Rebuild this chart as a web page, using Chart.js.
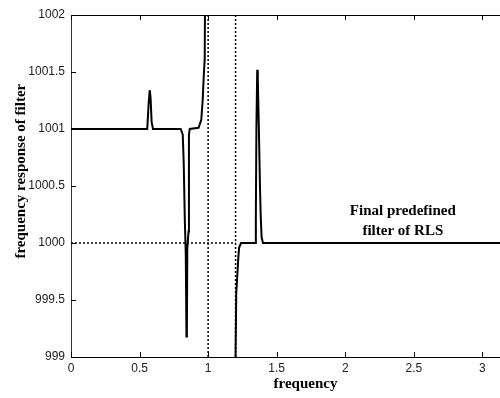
<!DOCTYPE html>
<html>
<head>
<meta charset="utf-8">
<script src="https://cdn.jsdelivr.net/npm/chart.js@4/dist/chart.umd.min.js"></script>
<style>
    html, body { margin: 0; padding: 0; background: #fff; overflow: hidden; }
    #wrap { width: 540px; height: 398px; }
</style>
</head>
<body>
<div id="wrap"><canvas id="myChart" width="540" height="398"></canvas></div>
<script>
    // frequency response
    const freqs = [0, 0.556, 0.566, 0.574, 0.58, 0.588, 0.598, 0.80, 0.815, 0.822, 0.83, 0.837, 0.842, 0.845,
        0.848, 0.857, 0.86, 0.866, 0.93, 0.95, 0.96, 0.969, 0.975, 0.978, 0.99, 1.199, 1.2, 1.205, 1.212,
        1.22, 1.226, 1.24, 1.345, 1.348, 1.352, 1.358, 1.362, 1.37, 1.378, 1.383, 1.39, 1.40, 3.42]
    const response = [1001, 1001, 1001.22, 1001.34, 1001.28, 1001.06, 1001, 1001, 1000.95, 1000.7, 1000.2, 999.9,
        999.18, 999.2, 999.95, 1000.1, 1000.95, 1001, 1001.01, 1001.08, 1001.25, 1001.49, 1001.61, 1002.3, null,
        996, 999.0, 999.56, 999.7, 999.87, 999.96, 1000, 1000, 1000.25, 1001.0, 1001.52, 1001.45, 1001.0,
        1000.5, 1000.25, 1000.05, 1000, 1000]

    // dotted guides
    const guideFreqs = [1.0, 1.2]
    const guideLevel = 1000

    const xTicks = [0, 0.5, 1, 1.5, 2, 2.5, 3]
    const yTicks = [999, 999.5, 1000, 1000.5, 1001, 1001.5, 1002]

    const xMin = 0, xMax = 3.42
    const yMin = 999, yMax = 1002

    const noteLines = ['Final predefined', 'filter of RLS']
    const yTitle = 'frequency response of filter'

    const curve = freqs.map((f, i) => ({x: f, y: response[i]}))

    const dotted = {
        borderColor: '#000',
        borderWidth: 1.5,
        borderDash: [2, 2],
        pointRadius: 0,
        fill: false
    }

    const datasets = [
        Object.assign({data: [{x: xMin, y: guideLevel}, {x: guideFreqs[1], y: guideLevel}]}, dotted),
        ...guideFreqs.map(f => Object.assign({data: [{x: f, y: yMin}, {x: f, y: yMax}]}, dotted)),
        {
            data: curve,
            borderColor: '#000',
            borderWidth: 2,
            pointRadius: 0,
            tension: 0,
            spanGaps: false
        }
    ]

    // matlab style: ticks pointing inside, box line on top, text note, y label
    const matlabBox = {
        id: 'matlabBox',
        afterDatasetsDraw(chart) {
            const {ctx, chartArea: a, scales: {x, y}} = chart
            ctx.save()
            ctx.strokeStyle = '#000'
            ctx.lineWidth = 1
            ctx.beginPath()
            ctx.moveTo(a.left, a.top + 0.5)
            ctx.lineTo(a.right, a.top + 0.5)
            xTicks.forEach(v => {
                const px = Math.round(x.getPixelForValue(v)) + 0.5
                ctx.moveTo(px, a.bottom)
                ctx.lineTo(px, a.bottom - 5)
                ctx.moveTo(px, a.top)
                ctx.lineTo(px, a.top + 5)
            })
            yTicks.forEach(v => {
                const py = Math.round(y.getPixelForValue(v)) + 0.5
                ctx.moveTo(a.left, py)
                ctx.lineTo(a.left + 5, py)
            })
            ctx.stroke()

            ctx.fillStyle = '#000'
            ctx.font = 'bold 15px "Liberation Serif"'
            ctx.textAlign = 'center'
            ctx.textBaseline = 'alphabetic'
            const nx = x.getPixelForValue(2.42)
            noteLines.forEach((t, i) => {
                ctx.fillText(t, nx, y.getPixelForValue(1000.25) + i * 20)
            })

            ctx.translate(25, y.getPixelForValue(1000.63))
            ctx.rotate(-Math.PI / 2)
            ctx.fillText(yTitle, 0, 0)
            ctx.restore()
        }
    }

    const ctx = document.getElementById('myChart').getContext('2d')
    const chart = new Chart(ctx, {
        type: 'line',
        data: {datasets: datasets},
        plugins: [matlabBox],
        options: {
            responsive: false,
            animation: false,
            layout: {padding: {top: 15, left: 0, right: 0, bottom: 0}},
            plugins: {legend: {display: false}, tooltip: {enabled: false}},
            scales: {
                x: {
                    type: 'linear',
                    min: xMin,
                    max: xMax,
                    afterBuildTicks: s => { s.ticks = xTicks.map(v => ({value: v})) },
                    afterFit: s => { s.height = 41 },
                    grid: {display: false, drawTicks: false, tickLength: 0},
                    border: {display: true, color: '#000', width: 1},
                    ticks: {
                        color: '#222',
                        padding: 4,
                        maxRotation: 0,
                        font: {family: 'Liberation Sans', size: 12},
                        callback: v => String(v)
                    },
                    title: {
                        display: true,
                        text: 'frequency',
                        color: '#000',
                        font: {family: 'Liberation Serif', size: 15, weight: 'bold'},
                        padding: {top: 0, bottom: 5}
                    }
                },
                y: {
                    type: 'linear',
                    min: yMin,
                    max: yMax,
                    afterBuildTicks: s => { s.ticks = yTicks.map(v => ({value: v})) },
                    afterFit: s => { s.width = 71 },
                    grid: {display: false, drawTicks: false, tickLength: 0},
                    border: {display: true, color: '#333', width: 1},
                    ticks: {
                        color: '#222',
                        padding: 6,
                        font: {family: 'Liberation Sans', size: 12},
                        callback: v => String(v)
                    }
                }
            }
        }
    })
</script>
</body>
</html>
